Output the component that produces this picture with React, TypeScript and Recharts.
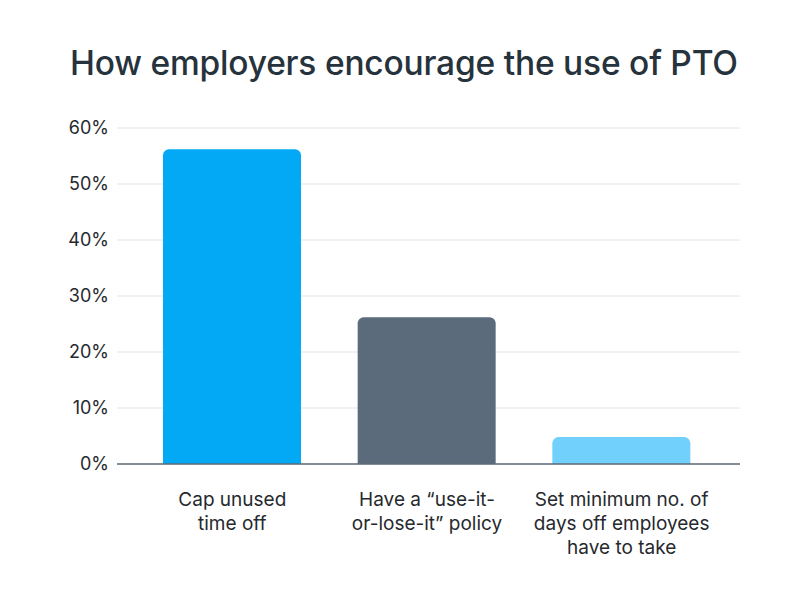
import React from "react";
import { BarChart, Bar, XAxis, YAxis, CartesianGrid, Cell } from "recharts";

const categories = [
  "Cap unused\ntime off",
  "Have a \u201cuse-it-\nor-lose-it\u201d policy",
  "Set minimum no. of\ndays off employees\nhave to take",
];
const shares = [56.2, 26.2, 4.8];
const barColors = ["#03a9f4", "#5b6b7b", "#72d0fc"];
const yTicks = [0, 10, 20, 30, 40, 50, 60];

const chartData = categories.map((name, i) => ({ name, value: shares[i] }));

const FONT = "Inter, 'Noto Sans', sans-serif";

const WrappedTick = (props: any) => {
  const { x, y, payload } = props;
  const lines = String(payload.value).split("\n");
  return (
    <g transform={`translate(${x},${y})`}>
      <text textAnchor="middle" fill="#26292d" fontSize={19} fontFamily={FONT}>
        {lines.map((line, i) => (
          <tspan key={i} x={0} y={34 + i * 24}>
            {line}
          </tspan>
        ))}
      </text>
    </g>
  );
};

const App: React.FC = () => {
  return (
    <div
      style={{
        position: "absolute",
        left: 0,
        top: 0,
        width: 809,
        height: 600,
        background: "#fff",
      }}
    >
      <div
        style={{
          position: "absolute",
          left: 70,
          top: 43,
          fontFamily: FONT,
          fontSize: 33.5,
          fontWeight: 500,
          color: "#26323c",
          whiteSpace: "nowrap",
          letterSpacing: -0.2,
        }}
      >
        How employers encourage the use of PTO
      </div>
      <BarChart
        width={809}
        height={600}
        data={chartData}
        margin={{ top: 128, right: 69, bottom: 36, left: 0 }}
      >
        <CartesianGrid horizontal vertical={false} stroke="#e0e4e8" />
        <XAxis
          dataKey="name"
          height={100}
          interval={0}
          padding={{ left: 18, right: 21 }}
          axisLine={{ stroke: "#5f6b76", strokeWidth: 1.5 }}
          tickLine={false}
          tick={<WrappedTick />}
        />
        <YAxis
          width={117}
          domain={[0, 60]}
          ticks={yTicks}
          axisLine={false}
          tickLine={false}
          tickFormatter={(v) => `${v}%`}
          tick={{ fill: "#26292d", fontSize: 18, fontFamily: FONT }}
        />
        <Bar dataKey="value" barSize={138} radius={[6, 6, 0, 0]} isAnimationActive={false}>
          {chartData.map((_, i) => (
            <Cell key={i} fill={barColors[i]} />
          ))}
        </Bar>
      </BarChart>
    </div>
  );
};

export default App;
